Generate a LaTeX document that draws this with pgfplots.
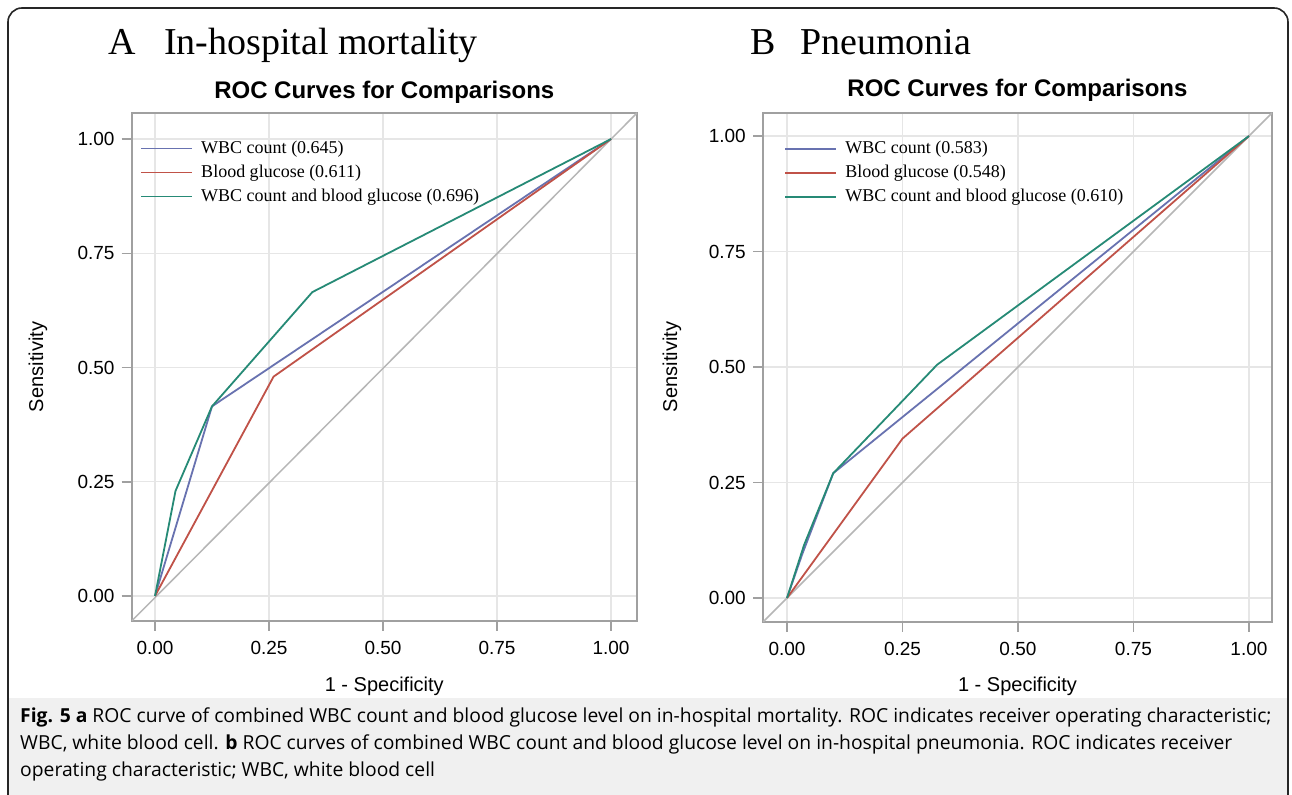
\documentclass[border=0pt]{standalone}
\usepackage{fontspec}
\setmainfont{Liberation Sans}
\newfontfamily\serif{Liberation Serif}
\newfontfamily\capfont{Open Sans}
\usepackage{pgfplots}
\pgfplotsset{compat=1.18}
\definecolor{cblue}{RGB}{104,114,176}
\definecolor{cred}{RGB}{192,82,72}
\definecolor{cgreen}{RGB}{38,138,118}
\definecolor{diag}{RGB}{182,182,182}
\definecolor{axgray}{RGB}{160,160,160}
\definecolor{gridgray}{RGB}{230,230,230}
\definecolor{capgray}{RGB}{240,240,240}
\pgfplotsset{rocaxis/.style={
  scale only axis,
  xtick={0,0.25,0.5,0.75,1}, ytick={0,0.25,0.5,0.75,1},
  tick pos=left, tick align=outside, major tick length=10bp,
  grid=major, major grid style={draw=gridgray, line width=1.2bp},
  axis line style={draw=axgray, line width=1.8bp},
  every tick/.style={draw=axgray, line width=1.5bp},
  /pgf/number format/.cd, fixed, fixed zerofill, precision=2, assume math mode=true, /pgfplots/.cd,
  tick label style={font=\fontsize{19bp}{22bp}\selectfont},
  xticklabel style={anchor=north, inner sep=0pt, yshift=-10bp},
  yticklabel style={anchor=east, inner sep=0pt, xshift=-7bp},
  legend cell align=left,
  legend style={draw=none, fill=none, anchor=north west, font=\serif\fontsize{18bp}{22bp}\selectfont,
    row sep=7bp, nodes={inner sep=0pt, text height=13bp, text depth=4bp},
    /tikz/column 1/.style={column sep=8bp}},
  legend image code/.code={\draw[##1, line width=1.8bp] (0bp,0bp) -- (51bp,0bp);},
  every axis plot/.append style={line width=1.8bp},
}}
\begin{document}
\begin{tikzpicture}[x=1bp,y=1bp]
\clip (0,0) rectangle (1292,795);
\fill[white] (0,0) rectangle (1292,795);
\fill[capgray] (9,0) rectangle (1288,97);
\draw[black!85, line width=1.6bp, rounded corners=14bp] (8,-30) -- (8,787) -- (1288,787) -- (1288,-30);

% Panel A
\begin{axis}[rocaxis, at={(131.7bp,174bp)}, anchor=south west, width=505.3bp, height=508bp,
  xmin=-0.0511, xmax=1.057, ymin=-0.0547, ymax=1.057,
  legend style={at={(0.011,0.951)}}]
\addplot[diag, line width=1.5bp, forget plot] coordinates {(-0.0511,-0.0547) (1.057,1.057)};
\addplot[cblue] coordinates {(0,0) (0.125,0.415) (1,1)};
\addplot[cred] coordinates {(0,0) (0.26,0.48) (1,1)};
\addplot[cgreen] coordinates {(0,0) (0.045,0.23) (0.125,0.415) (0.345,0.665) (1,1)};
\legend{WBC count (0.645), Blood glucose (0.611), WBC count and blood glucose (0.696)}
\end{axis}

% Panel B
\begin{axis}[rocaxis, at={(763bp,173bp)}, anchor=south west, width=509bp, height=509bp,
  xmin=-0.052, xmax=1.05, ymin=-0.052, ymax=1.05,
  legend style={at={(0.036,0.951)}}]
\addplot[diag, line width=1.5bp, forget plot] coordinates {(-0.052,-0.052) (1.05,1.05)};
\addplot[cblue] coordinates {(0,0) (0.033,0.095) (0.1,0.27) (1,1)};
\addplot[cred] coordinates {(0,0) (0.25,0.345) (1,1)};
\addplot[cgreen] coordinates {(0,0) (0.037,0.115) (0.1,0.27) (0.325,0.505) (1,1)};
\legend{WBC count (0.583), Blood glucose (0.548), WBC count and blood glucose (0.610)}
\end{axis}

% headings
\node[anchor=base west, inner sep=0, font=\serif\fontsize{38bp}{40bp}\selectfont] at (108,740) {A};
\node[anchor=base west, inner sep=0, font=\serif\fontsize{38bp}{40bp}\selectfont] at (164,740) {In-hospital mortality};
\node[anchor=base west, inner sep=0, font=\serif\fontsize{38bp}{40bp}\selectfont] at (750,740) {B};
\node[anchor=base west, inner sep=0, font=\serif\fontsize{38bp}{40bp}\selectfont] at (800,740) {Pneumonia};
\node[font=\bfseries\fontsize{24bp}{28bp}\selectfont] at (384.3,703) {ROC Curves for Comparisons};
\node[font=\bfseries\fontsize{24bp}{28bp}\selectfont] at (1017.5,705) {ROC Curves for Comparisons};
% axis labels
\node[font=\fontsize{20bp}{24bp}\selectfont] at (384.3,109) {1 - Specificity};
\node[font=\fontsize{20bp}{24bp}\selectfont] at (1017.5,109) {1 - Specificity};
\node[rotate=90, font=\fontsize{20bp}{24bp}\selectfont] at (38,428) {Sensitivity};
\node[rotate=90, font=\fontsize{20bp}{24bp}\selectfont] at (672,428) {Sensitivity};
% caption
\begin{scope}[every node/.style={anchor=base west, inner sep=0, font=\capfont\fontsize{19.3bp}{23bp}\selectfont}]
\node at (20,72) {\textbf{Fig. 5 a} ROC curve of combined WBC count and blood glucose level on in-hospital mortality. ROC indicates receiver operating characteristic;};
\node at (20,45) {WBC, white blood cell. \textbf{b} ROC curves of combined WBC count and blood glucose level on in-hospital pneumonia. ROC indicates receiver};
\node at (20,18) {operating characteristic; WBC, white blood cell};
\end{scope}
\end{tikzpicture}
\end{document}
